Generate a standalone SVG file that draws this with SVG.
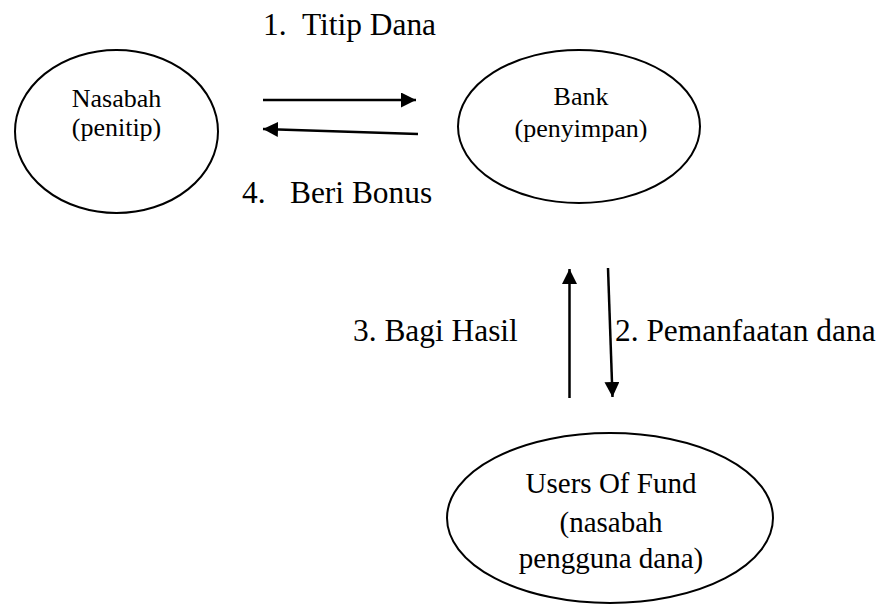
<svg xmlns="http://www.w3.org/2000/svg" width="887" height="604" viewBox="0 0 887 604">
<defs>
<style>
.node{fill:#fff;stroke:#000;stroke-width:2}
.t{font-family:"Liberation Serif","Times New Roman",serif;fill:#000;text-anchor:middle}
.n{font-size:26px}
.u{font-size:29px}
.lbl{font-family:"Liberation Serif","Times New Roman",serif;fill:#000;font-size:31.4px}
.edge{stroke:#000;stroke-width:2.5;fill:none;marker-end:url(#ah)}
</style>
<marker id="ah" viewBox="0 0 10 10" refX="10" refY="5" markerWidth="6" markerHeight="6" markerUnits="strokeWidth" orient="auto">
<path d="M0,0 L10,5 L0,10 Z" fill="#000"/>
</marker>
</defs>
<rect width="887" height="604" fill="#fff"/>
<g id="nasabah">
<ellipse class="node" cx="116.5" cy="131.5" rx="101.5" ry="81.5"/>
<text class="t n" x="116.5" y="107">Nasabah</text>
<text class="t n" x="116.5" y="136">(penitip)</text>
</g>
<g id="bank">
<ellipse class="node" cx="579" cy="126.5" rx="121" ry="76.5"/>
<text class="t n" x="581" y="105">Bank</text>
<text class="t n" x="581" y="137">(penyimpan)</text>
</g>
<g id="users">
<ellipse class="node" cx="610" cy="518" rx="163" ry="85"/>
<text class="t u" x="611" y="493">Users Of Fund</text>
<text class="t u" x="611" y="532">(nasabah</text>
<text class="t u" x="611" y="568">pengguna dana)</text>
</g>
<g id="connectors">
<line class="edge" x1="263" y1="100" x2="416" y2="100"/>
<line class="edge" x1="418" y1="134" x2="263" y2="129"/>
<line class="edge" x1="569.5" y1="398" x2="569.5" y2="269"/>
<line class="edge" x1="608" y1="268" x2="612.5" y2="397"/>
</g>
<g id="labels">
<text class="lbl" y="35"><tspan x="263">1.</tspan><tspan x="302">Titip Dana</tspan></text>
<text class="lbl" y="203"><tspan x="242">4.</tspan><tspan x="290">Beri Bonus</tspan></text>
<text class="lbl" x="353" y="341">3. Bagi Hasil</text>
<text class="lbl" x="615" y="341">2. Pemanfaatan dana</text>
</g>
</svg>
